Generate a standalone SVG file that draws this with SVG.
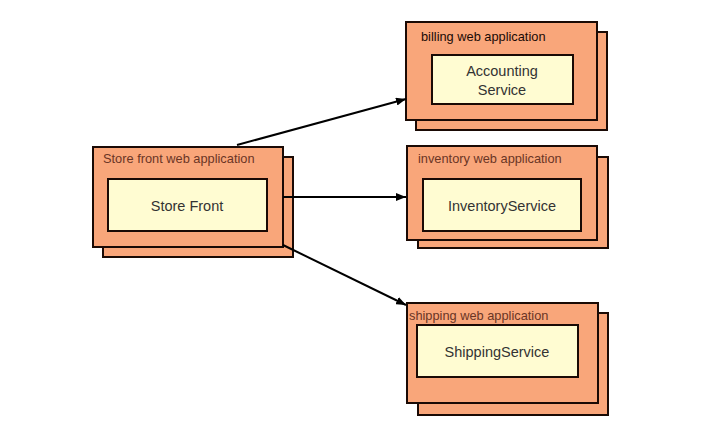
<svg xmlns="http://www.w3.org/2000/svg" width="720" height="444" viewBox="0 0 720 444">
<style>
.app{fill:#F9A67A;stroke:#1a0a05;stroke-width:2}
.svc{fill:#FFFCD2;stroke:#1a0a05;stroke-width:2}
.title{font-family:"Liberation Sans",Arial,sans-serif;font-size:12.8px;fill:#6a3525}
.label{font-family:"Liberation Sans",Arial,sans-serif;font-size:14.5px;fill:#333;text-anchor:middle}
.conn{stroke:#000;stroke-width:2;fill:none;marker-end:url(#arr)}
</style>
<defs>
<marker id="arr" viewBox="0 0 10 8" refX="10" refY="4" markerWidth="10" markerHeight="8" markerUnits="userSpaceOnUse" orient="auto">
<path d="M0,0 L10,4 L0,8 Z" fill="#000"/>
</marker>
</defs>
<rect width="720" height="444" fill="#fff"/>
<g id="storefront">
<rect class="app" x="103" y="157" width="190" height="100"/>
<rect class="app" x="93" y="147" width="190" height="100"/>
<text class="title" x="103" y="163">Store front web application</text>
<rect class="svc" x="108" y="179" width="159" height="52"/>
<text class="label" x="187" y="211">Store Front</text>
</g>
<g id="billing">
<rect class="app" x="416" y="32" width="191" height="98"/>
<rect class="app" x="406" y="22" width="191" height="98"/>
<text class="title" x="421" y="41" style="fill:#1a0a05">billing web application</text>
<rect class="svc" x="432" y="55" width="141" height="49"/>
<text class="label" x="502" y="76">Accounting</text>
<text class="label" x="502" y="95">Service</text>
</g>
<g id="inventory">
<rect class="app" x="418" y="157" width="190" height="91"/>
<rect class="app" x="407" y="146" width="190" height="94"/>
<text class="title" x="418" y="163">inventory web application</text>
<rect class="svc" x="423" y="179" width="158" height="52"/>
<text class="label" x="502" y="211">InventoryService</text>
</g>
<g id="shipping">
<rect class="app" x="418" y="313" width="190" height="102"/>
<rect class="app" x="407" y="303" width="191" height="100"/>
<text class="title" x="409" y="320">shipping web application</text>
<rect class="svc" x="417" y="325" width="161" height="52"/>
<text class="label" x="497" y="357">ShippingService</text>
</g>
<g id="connectors">
<line class="conn" x1="237" y1="145" x2="406" y2="99"/>
<line class="conn" x1="283" y1="197" x2="406" y2="197"/>
<line class="conn" x1="283" y1="245" x2="406" y2="305"/>
</g>
</svg>
